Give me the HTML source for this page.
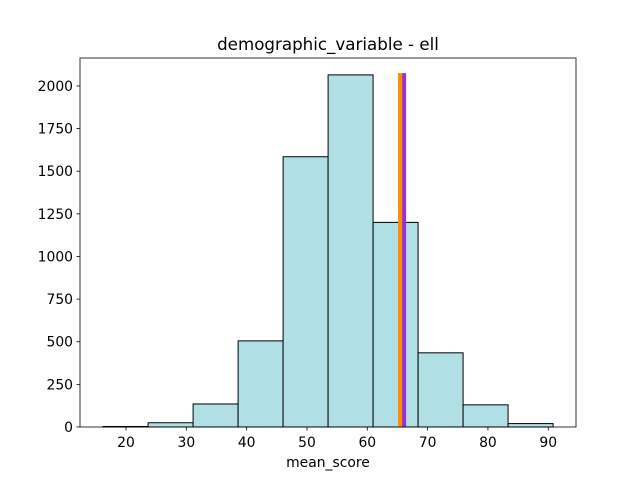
<!DOCTYPE html>
<html><head><meta charset="utf-8"><style>body{margin:0;background:#fff}svg{font-family:"DejaVu Sans","Liberation Sans",sans-serif}</style></head>
<body>
<svg id="c" width="640" height="480"></svg>
<script>
const binStart = 16.2;
const binWidth = 7.46;
const counts = [3, 25, 135, 505, 1585, 2065, 1200, 435, 130, 20];
const xTicks = [20, 30, 40, 50, 60, 70, 80, 90];
const yTicks = [0, 250, 500, 750, 1000, 1250, 1500, 1750, 2000];
const vLines = [65.43, 66.1];
const vLineColors = ['#ff8c00', '#9932cc'];
const vLineTop = 2075;
const L=80,R=576,T=58,B=427;
const xMin=12.37,xMax=94.6,yMax=2164;
const X=v=>L+(v-xMin)/(xMax-xMin)*(R-L);
const Y=v=>B-v/yMax*(B-T);
const svg=document.getElementById('c');
const NS='http://www.w3.org/2000/svg';
function mk(t,a){const e=document.createElementNS(NS,t);for(const k in a)e.setAttribute(k,a[k]);svg.appendChild(e);return e;}
counts.forEach((c,i)=>{
  const x0=X(binStart+i*binWidth),x1=X(binStart+(i+1)*binWidth);
  const r=mk('rect',{x:x0,y:Y(c),width:x1-x0,height:B-Y(c),fill:'#b0e0e6',stroke:'#000','stroke-width':1});
  
  
});
vLines.forEach((v,i)=>{
  const l=mk('line',{x1:X(v),x2:X(v),y1:B,y2:Y(vLineTop),stroke:vLineColors[i],'stroke-width':4});
  
  
});
const fr=mk('rect',{x:L,y:T,width:R-L,height:B-T,fill:'none',stroke:'#000','stroke-width':0.8});


xTicks.forEach(t=>{
  const x=X(t);
  mk('line',{x1:x,x2:x,y1:B,y2:B+3.5,stroke:'#000','stroke-width':0.8});
  const tx=mk('text',{x:x,y:B+20,'text-anchor':'middle','font-size':'13.9px'});
  tx.textContent=t;
  
  
});
yTicks.forEach(t=>{
  const y=Y(t);
  mk('line',{x1:L-3.5,x2:L,y1:y,y2:y,stroke:'#000','stroke-width':0.8});
  const tx=mk('text',{x:L-7,y:y+5,'text-anchor':'end','font-size':'13.9px'});
  tx.textContent=t;
  
  
});
const xl=mk('text',{x:(L+R)/2,y:467,'text-anchor':'middle','font-size':'13.9px'});
xl.textContent='mean_score';


const ti=mk('text',{x:(L+R)/2,y:50,'text-anchor':'middle','font-size':'16.7px'});
ti.textContent='demographic_variable - ell';


</script>
</body></html>
